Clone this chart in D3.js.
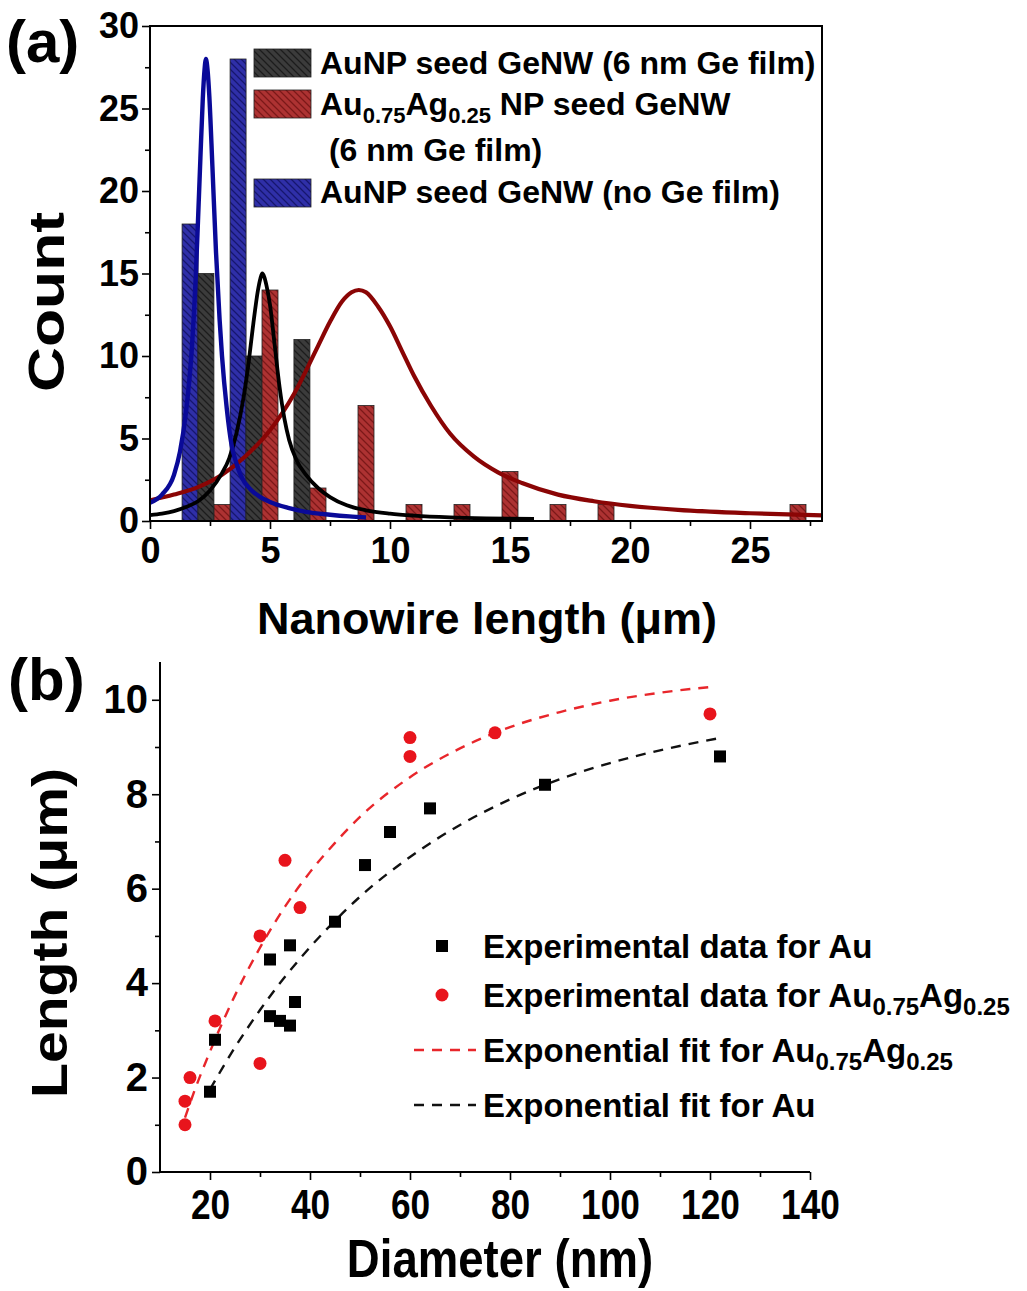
<!DOCTYPE html>
<html>
<head>
<meta charset="utf-8">
<script src="https://cdn.jsdelivr.net/npm/d3@7"></script>
<style>
  body { margin: 0; background: #fff; }
  svg { display: block; }
</style>
</head>
<body>
<svg id="fig" width="1027" height="1291"></svg>
<script>
// ---------- Panel (a): nanowire length histograms ----------
// bar centres (µm) and counts for each sample
const blueLen = [1.67, 3.67];
const blueCount = [18, 28];
const blackLen = [2.33, 4.33, 6.33];
const blackCount = [15, 10, 11];
const redLen = [3, 5, 7, 9, 11, 13, 15, 17, 19, 27];
const redCount = [1, 14, 2, 7, 1, 1, 3, 1, 1, 1];

// fitted distribution curves (length µm, count)
const blueFitX = [0, 0.5, 1.0, 1.25, 1.5, 1.75, 1.9, 2.0, 2.1, 2.2, 2.27, 2.33, 2.4, 2.47, 2.6, 2.75, 2.9, 3.0, 3.2, 3.4, 3.6, 3.8, 4.2, 4.6, 5.0, 5.8, 6.5, 7.5, 8.3, 9.0];
const blueFitY = [1.1, 1.6, 2.8, 4.2, 6.6, 10.6, 14.6, 18.2, 22.0, 25.6, 27.3, 28.0, 27.3, 25.8, 21.5, 16.3, 12.2, 10.0, 6.8, 4.6, 3.5, 2.7, 1.9, 1.45, 1.15, 0.78, 0.55, 0.38, 0.28, 0.22];
const blackFitX = [0, 0.5, 1.0, 1.5, 2.0, 2.5, 3.0, 3.3, 3.6, 3.9, 4.1, 4.3, 4.5, 4.6, 4.68, 4.76, 4.85, 5.0, 5.2, 5.4, 5.6, 5.8, 6.1, 6.5, 7.0, 7.5, 8.2, 9.0, 10.0, 11.0, 12.5, 14.0, 16.0];
const blackFitY = [0.36, 0.45, 0.6, 0.85, 1.2, 1.85, 2.9, 3.8, 5.3, 7.5, 9.5, 11.9, 14.0, 14.7, 15.0, 14.8, 14.3, 13.1, 10.6, 8.1, 6.2, 4.9, 3.7, 2.8, 2.0, 1.45, 0.95, 0.65, 0.45, 0.33, 0.22, 0.16, 0.12];
const redFitX = [0, 1, 2, 3, 4, 5, 6, 7, 7.5, 8.0, 8.4, 8.7, 9.0, 9.5, 10.0, 10.5, 11.0, 11.7, 12.5, 13.5, 14.5, 15.5, 17, 18.5, 20, 22, 25, 28];
const redFitY = [1.25, 1.6, 2.05, 2.8, 3.95, 5.5, 7.7, 10.6, 12.07, 13.3, 13.86, 14.0, 13.86, 13.0, 11.8, 10.3, 8.8, 7.0, 5.3, 3.9, 2.95, 2.3, 1.6, 1.2, 0.92, 0.68, 0.47, 0.34];

const histXTicks = [0, 5, 10, 15, 20, 25];
const histXMinor = [2.5, 7.5, 12.5, 17.5, 22.5, 27.5];
const histYTicks = [0, 5, 10, 15, 20, 25, 30];
const histYMinor = [2.5, 7.5, 12.5, 17.5, 22.5, 27.5];

// ---------- Panel (b): length vs diameter ----------
const auDiam = [20, 21, 32, 32, 34, 36, 36, 37, 45, 51, 56, 64, 87, 122];
const auLen = [1.7, 2.8, 4.5, 3.3, 3.2, 4.8, 3.1, 3.6, 5.3, 6.5, 7.2, 7.7, 8.2, 8.8];
const agDiam = [15, 15, 16, 21, 30, 30, 35, 38, 60, 60, 77, 120];
const agLen = [1.0, 1.5, 2.0, 3.2, 5.0, 2.3, 6.6, 5.6, 9.2, 8.8, 9.3, 9.7];
// exponential fit curves
const agFitD = [15, 17, 20, 25, 30, 35, 40, 45, 50, 60, 70, 80, 90, 100, 110, 120];
const agFitL = [1.15, 1.75, 2.55, 3.74, 4.75, 5.62, 6.35, 6.97, 7.52, 8.36, 8.97, 9.42, 9.74, 9.98, 10.15, 10.27];
const auFitD = [20, 25, 30, 40, 45, 50, 60, 70, 80, 90, 100, 110, 122];
const auFitL = [1.75, 2.64, 3.43, 4.76, 5.32, 5.83, 6.67, 7.35, 7.89, 8.32, 8.66, 8.93, 9.19];

const diamTicks = [20, 40, 60, 80, 100, 120, 140];
const diamMinor = [30, 50, 70, 90, 110, 130];
const lenTicks = [0, 2, 4, 6, 8, 10];
const lenMinor = [1, 3, 5, 7, 9];

// ---------- drawing ----------
const FONT = '"Liberation Sans", Arial, Helvetica, sans-serif';
const svg = d3.select('#fig')
  .attr('font-family', FONT)
  .attr('font-weight', 'bold');

const defs = svg.append('defs');
function hatch(id, fill, line) {
  const s = 7;
  const p = defs.append('pattern')
    .attr('id', id)
    .attr('patternUnits', 'userSpaceOnUse')
    .attr('width', s).attr('height', s);
  p.append('rect').attr('width', s).attr('height', s).attr('fill', fill);
  p.append('path')
    .attr('d', `M${-s / 2},${s / 2}L${s / 2},${s * 1.5}M0,0L${s},${s}M${s / 2},${-s / 2}L${s * 1.5},${s / 2}`)
    .attr('stroke', line).attr('stroke-width', 1.3);
}
hatch('hBlack', '#3b3b3b', '#1c1c1c');
hatch('hRed', '#ad3232', '#7c1818');
hatch('hBlue', '#2f2fa8', '#16166e');

function styleAxis(g, size) {
  g.attr('font-family', FONT).attr('font-size', size).attr('font-weight', 'bold');
  g.select('.domain').remove();
  g.selectAll('.tick line').attr('stroke', '#000').attr('stroke-width', 1.6);
  g.selectAll('.tick text').attr('fill', '#000');
}

// ----- panel (a) -----
const xA = d3.scaleLinear().domain([0, 28]).range([150, 822]);
const yA = d3.scaleLinear().domain([0, 30]).range([521, 26]);

defs.append('clipPath').attr('id', 'clipA')
  .append('rect').attr('x', 150).attr('y', 26).attr('width', 672).attr('height', 495);

const pa = svg.append('g');
const barW = 2 / 3;
function bars(lens, counts, fillId) {
  pa.append('g').selectAll('rect')
    .data(d3.zip(lens, counts))
    .join('rect')
    .attr('x', d => xA(d[0] - barW / 2))
    .attr('width', d => xA(d[0] + barW / 2) - xA(d[0] - barW / 2))
    .attr('y', d => yA(d[1]))
    .attr('height', d => yA(0) - yA(d[1]))
    .attr('fill', `url(#${fillId})`)
    .attr('stroke', '#222').attr('stroke-width', 0.8);
}
bars(blueLen, blueCount, 'hBlue');
bars(blackLen, blackCount, 'hBlack');
bars(redLen, redCount, 'hRed');

const lineA = d3.line().x(d => xA(d[0])).y(d => yA(d[1])).curve(d3.curveMonotoneX);
const curves = pa.append('g').attr('clip-path', 'url(#clipA)').attr('fill', 'none');
curves.append('path').attr('d', lineA(d3.zip(redFitX, redFitY)))
  .attr('stroke', '#8a0505').attr('stroke-width', 4.2);
curves.append('path').attr('d', lineA(d3.zip(blackFitX, blackFitY)))
  .attr('stroke', '#000').attr('stroke-width', 3.8);
curves.append('path').attr('d', lineA(d3.zip(blueFitX, blueFitY)))
  .attr('stroke', '#0a0a98').attr('stroke-width', 4.4);

// frame
svg.append('rect').attr('x', 150).attr('y', 26).attr('width', 672).attr('height', 495)
  .attr('fill', 'none').attr('stroke', '#000').attr('stroke-width', 2);

const gxA = svg.append('g').attr('transform', 'translate(0,521)')
  .call(d3.axisBottom(xA).tickValues(histXTicks).tickSize(8).tickPadding(8).tickFormat(d3.format('d')));
styleAxis(gxA, 36);
const gxAm = svg.append('g').attr('transform', 'translate(0,521)')
  .call(d3.axisBottom(xA).tickValues(histXMinor).tickSize(5).tickFormat(''));
styleAxis(gxAm, 10);
const gyA = svg.append('g').attr('transform', 'translate(150,0)')
  .call(d3.axisLeft(yA).tickValues(histYTicks).tickSize(8).tickPadding(3).tickFormat(d3.format('d')));
styleAxis(gyA, 36);
const gyAm = svg.append('g').attr('transform', 'translate(150,0)')
  .call(d3.axisLeft(yA).tickValues(histYMinor).tickSize(5).tickFormat(''));
styleAxis(gyAm, 10);

svg.append('text').attr('x', 487).attr('y', 634).attr('text-anchor', 'middle')
  .attr('font-size', 45).text('Nanowire length (\u03bcm)');
svg.append('text').attr('transform', 'translate(64,302) rotate(-90)').attr('text-anchor', 'middle')
  .attr('font-size', 50).attr('textLength', 180).attr('lengthAdjust', 'spacingAndGlyphs').text('Count');
svg.append('text').attr('x', 6).attr('y', 62).attr('font-size', 60).text('(a)');

// legend (a)
const legA = svg.append('g').attr('font-size', 32);
const legRows = [
  { y: 49, fill: 'hBlack' },
  { y: 90, fill: 'hRed' },
  { y: 179, fill: 'hBlue' }
];
legA.selectAll('rect').data(legRows).join('rect')
  .attr('x', 254).attr('y', d => d.y).attr('width', 57).attr('height', 28)
  .attr('fill', d => `url(#${d.fill})`).attr('stroke', '#222').attr('stroke-width', 0.8);
legA.append('text').attr('x', 320).attr('y', 74).text('AuNP seed GeNW (6 nm Ge film)');
const t2 = legA.append('text').attr('x', 320).attr('y', 115);
t2.append('tspan').text('Au');
t2.append('tspan').attr('font-size', 22).attr('dy', 8).text('0.75');
t2.append('tspan').attr('dy', -8).text('Ag');
t2.append('tspan').attr('font-size', 22).attr('dy', 8).text('0.25');
t2.append('tspan').attr('dy', -8).text(' NP seed GeNW');
legA.append('text').attr('x', 320).attr('y', 161).attr('xml:space', 'preserve').text(' (6 nm Ge film)');
legA.append('text').attr('x', 320).attr('y', 203).text('AuNP seed GeNW (no Ge film)');

// ----- panel (b) -----
const xB = d3.scaleLinear().domain([10, 140]).range([160, 810]);
const yB = d3.scaleLinear().domain([0, 10.8]).range([1172, 662]);

const pb = svg.append('g');
const lineB = d3.line().x(d => xB(d[0])).y(d => yB(d[1])).curve(d3.curveMonotoneX);
pb.append('path').attr('d', lineB(d3.zip(agFitD, agFitL)))
  .attr('fill', 'none').attr('stroke', '#e8262b').attr('stroke-width', 2.4).attr('stroke-dasharray', '10,8');
pb.append('path').attr('d', lineB(d3.zip(auFitD, auFitL)))
  .attr('fill', 'none').attr('stroke', '#111').attr('stroke-width', 2.4).attr('stroke-dasharray', '10,8');

const sq = 12;
pb.append('g').selectAll('rect').data(d3.zip(auDiam, auLen)).join('rect')
  .attr('x', d => xB(d[0]) - sq / 2).attr('y', d => yB(d[1]) - sq / 2)
  .attr('width', sq).attr('height', sq).attr('fill', '#000');
pb.append('g').selectAll('circle').data(d3.zip(agDiam, agLen)).join('circle')
  .attr('cx', d => xB(d[0])).attr('cy', d => yB(d[1])).attr('r', 6.5).attr('fill', '#e8141c');

// axes lines
svg.append('line').attr('x1', 160).attr('x2', 810).attr('y1', 1172).attr('y2', 1172)
  .attr('stroke', '#000').attr('stroke-width', 2);
svg.append('line').attr('x1', 160).attr('x2', 160).attr('y1', 1172).attr('y2', 662)
  .attr('stroke', '#000').attr('stroke-width', 2);

const gxB = svg.append('g').attr('transform', 'translate(0,1172)')
  .call(d3.axisBottom(xB).tickValues(diamTicks).tickSize(8).tickPadding(9).tickFormat(d3.format('d')));
styleAxis(gxB, 42);
gxB.selectAll('.tick text').attr('transform', 'scale(0.84,1)');
const gxBm = svg.append('g').attr('transform', 'translate(0,1172)')
  .call(d3.axisBottom(xB).tickValues(diamMinor).tickSize(5).tickFormat(''));
styleAxis(gxBm, 10);
const gyB = svg.append('g').attr('transform', 'translate(160,0)')
  .call(d3.axisLeft(yB).tickValues(lenTicks).tickSize(8).tickPadding(4).tickFormat(d3.format('d')));
styleAxis(gyB, 40);
const gyBm = svg.append('g').attr('transform', 'translate(160,0)')
  .call(d3.axisLeft(yB).tickValues(lenMinor).tickSize(5).tickFormat(''));
styleAxis(gyBm, 10);

svg.append('text').attr('transform', 'translate(500,1277) scale(0.86,1)').attr('text-anchor', 'middle')
  .attr('font-size', 53).text('Diameter (nm)');
svg.append('text').attr('transform', 'translate(67,933) rotate(-90)').attr('text-anchor', 'middle')
  .attr('font-size', 50).attr('textLength', 330).attr('lengthAdjust', 'spacingAndGlyphs').text('Length (\u03bcm)');
svg.append('text').attr('x', 8).attr('y', 700).attr('font-size', 60).text('(b)');

// legend (b)
const legB = svg.append('g').attr('font-size', 33);
legB.append('rect').attr('x', 442 - 6).attr('y', 946 - 6).attr('width', 12).attr('height', 12).attr('fill', '#000');
legB.append('circle').attr('cx', 442).attr('cy', 995).attr('r', 6.5).attr('fill', '#e8141c');
legB.append('line').attr('x1', 414).attr('x2', 476).attr('y1', 1050).attr('y2', 1050)
  .attr('stroke', '#e8262b').attr('stroke-width', 2.4).attr('stroke-dasharray', '10,8');
legB.append('line').attr('x1', 414).attr('x2', 476).attr('y1', 1105).attr('y2', 1105)
  .attr('stroke', '#111').attr('stroke-width', 2.4).attr('stroke-dasharray', '10,8');

legB.append('text').attr('x', 483).attr('y', 958).text('Experimental data for Au');
function subLabel(y, lead) {
  const t = legB.append('text').attr('x', 483).attr('y', y);
  t.append('tspan').text(lead + 'Au');
  t.append('tspan').attr('font-size', 24).attr('dy', 8).text('0.75');
  t.append('tspan').attr('dy', -8).text('Ag');
  t.append('tspan').attr('font-size', 24).attr('dy', 8).text('0.25');
}
subLabel(1007, 'Experimental data for ');
subLabel(1062, 'Exponential fit for ');
legB.append('text').attr('x', 483).attr('y', 1117).text('Exponential fit for Au');
</script>
</body>
</html>
